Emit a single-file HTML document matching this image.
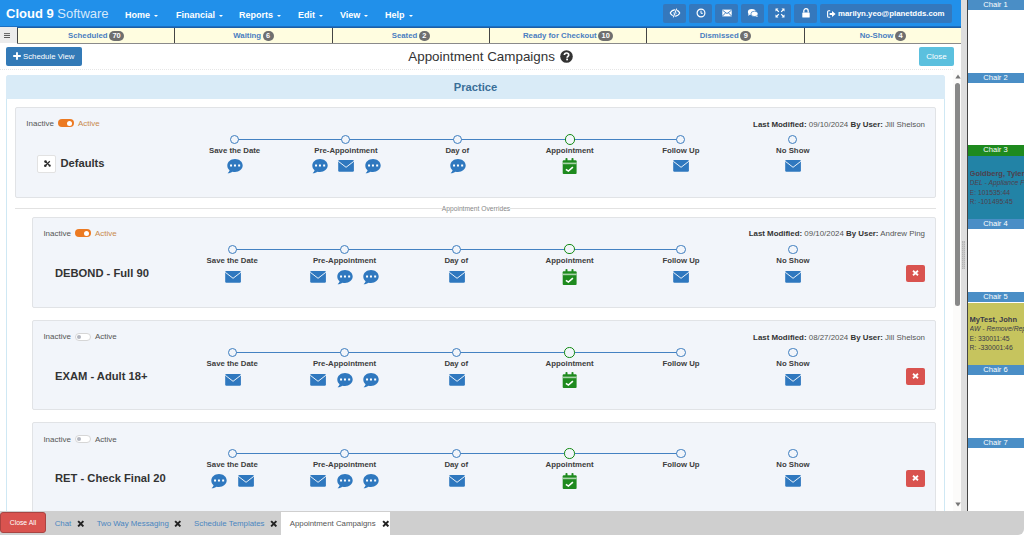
<!DOCTYPE html>
<html><head><meta charset="utf-8"><style>
*{box-sizing:border-box;margin:0;padding:0}
html,body{width:1024px;height:535px;overflow:hidden;background:#fff;font-family:"Liberation Sans",sans-serif;color:#333}
.a{position:absolute}
#nav{left:0;top:0;width:961px;height:27px;background:#2190ea;border-bottom:1px solid #1c6fc0}
.brand{left:6px;top:6.2px;font-size:13px;line-height:16px;color:#fff;white-space:nowrap}
.brand b{font-weight:bold}
.brand span{font-weight:normal;color:rgba(255,255,255,.82)}
.ni{top:10px;font-size:9px;font-weight:bold;color:#fff;white-space:nowrap}
.caret{display:inline-block;width:0;height:0;border-left:2.5px solid transparent;border-right:2.5px solid transparent;border-top:2.5px solid #fff;vertical-align:middle;margin-left:4px}
.nb{top:4px;height:19px;width:23px;background:#3478bd;border-radius:2px}
.nb svg{position:absolute;left:50%;top:46%;transform:translate(-50%,-50%)}
#status{left:17px;top:27px;width:944px;height:16.6px;background:#fffde0;border-top:1px solid #1b5fa8;border-bottom:1.2px solid #8a8a8a}
.ham{left:0;top:27px;width:17px;height:16px;background:#ececec}
.sc{top:28px;height:14.6px;border-left:1.2px solid #444;text-align:center;font-size:7.8px;font-weight:bold;color:#4a7ec0;line-height:15px;white-space:nowrap}
.badge{display:inline-block;background:#6f6f6f;color:#fff;border-radius:5px;padding:0 3.5px;min-width:11px;height:10px;line-height:10px;font-size:7.4px;vertical-align:0px;margin-left:1.5px;text-align:center}
.btn-sv{left:6px;top:46.8px;width:76px;height:19px;background:#337ab7;border-radius:2px;color:#fff;font-size:7.8px;line-height:19px;white-space:nowrap}
.title{font-size:13.4px;line-height:15px;color:#333;white-space:nowrap}
.btn-close{left:919px;top:47px;width:35px;height:19px;background:#5bc0de;border-radius:2px;color:#fff;font-size:8px;line-height:19px;text-align:center}
.hr{left:0;top:69px;width:953px;height:0;border-top:1px dotted #e6e6e6}
.panel{left:6px;top:75px;width:939px;height:440px;border:1px solid #cfe8f4;border-radius:3px;background:#fff}
.ph{left:6px;top:75px;width:939px;height:23.5px;background:#d9ebf7;border-radius:3px 3px 0 0;text-align:center;font-size:11.2px;font-weight:bold;color:#3a6f98;line-height:24.5px}
.card{background:#f2f5fa;border:1px solid #e1e3e6;border-radius:2px}
.tog{font-size:8px;color:#555;white-space:nowrap;height:10px;line-height:10px}
.sw{display:inline-block;width:16px;height:8px;border-radius:4px;vertical-align:-1px;margin:0 4px;position:relative}
.sw.on{background:#ec7a22}
.sw.on:after{content:"";position:absolute;right:1.5px;top:1.5px;width:5px;height:5px;border-radius:50%;background:#fff}
.sw.off{background:#fff;border:1px solid #d6d6d6;top:0.8px}
.sw.off:after{content:"";position:absolute;left:1.3px;top:0.9px;width:4.2px;height:4.2px;border-radius:50%;background:#b3b6c0}
.act{color:#c98a4b}
.lm{font-size:7.9px;color:#555;white-space:nowrap;height:10px;line-height:10px}
.lm b{color:#333}
.lbl{font-size:7.8px;font-weight:bold;color:#3d3d3d;white-space:nowrap;text-align:center;width:100px;height:10px;line-height:10px}
.name{font-size:11.2px;font-weight:bold;color:#333;white-space:nowrap;height:14px;line-height:14px}
.del{width:19px;height:17px;background:#d9534f;border-radius:2px}
.tl{height:1.6px;background:#4482c2}
.circ{width:9.2px;height:9.2px;border-radius:50%;border:1.7px solid #3d7dbf;background:#f2f5fa}
.circ.g{border-color:#138a13;border-width:1.9px;width:10.4px;height:10.4px}
#tabs{left:0;top:511px;width:1024px;height:24px;background:#cfcfcf;border-radius:0 0 6px 0}
.closeall{left:0;top:512px;width:46px;height:21px;background:#d9534f;border:1px solid #a94442;border-radius:3px;color:#fff;font-size:6.8px;text-align:center;line-height:19px}
.tab{top:513px;font-size:7.85px;color:#4a86c0;line-height:22px;white-space:nowrap}
.x{font-size:9px;color:#222;font-weight:bold}
#divider{left:961px;top:0;width:6px;height:511px;background:#dedede}
#divline{left:967px;top:0;width:1px;height:511px;background:#444}
#chairs{left:968px;top:0;width:56px;height:511px;background:#fff}
.ch{left:968px;width:56px;padding-right:1px;height:10.4px;background:#4a8ec6;color:#fff;font-size:7.6px;text-align:center;line-height:10px;white-space:nowrap}
.appt{left:969.6px;width:54.4px;overflow:hidden;font-size:6.8px;line-height:9.5px;white-space:nowrap}
.appt b{font-size:7.5px}
</style></head><body>
<div id="nav" class="a"></div>
<div class="a brand"><b>Cloud 9</b> <span>Software</span></div>
<div class="a ni" style="left:125px">Home<i class="caret"></i></div>
<div class="a ni" style="left:176px">Financial<i class="caret"></i></div>
<div class="a ni" style="left:239px">Reports<i class="caret"></i></div>
<div class="a ni" style="left:298px">Edit<i class="caret"></i></div>
<div class="a ni" style="left:340px">View<i class="caret"></i></div>
<div class="a ni" style="left:385px">Help<i class="caret"></i></div>
<div class="a nb" style="left:663px"><svg width="11" height="10" viewBox="0 0 11 10"><path d="M0.6 5C1.8 3 3.6 1.8 5.5 1.8C7.4 1.8 9.2 3 10.4 5C9.2 7 7.4 8.2 5.5 8.2C3.6 8.2 1.8 7 0.6 5Z" fill="none" stroke="#fff" stroke-width="1.2"/><circle cx="5.5" cy="5" r="1.6" fill="#fff"/><path d="M7.2 0.6L3.8 9.4" stroke="#3478bd" stroke-width="2.2"/><path d="M7.2 0.6L3.8 9.4" stroke="#fff" stroke-width="1.1"/></svg></div>
<div class="a nb" style="left:689px"><svg width="10" height="10" viewBox="0 0 10 10"><circle cx="5" cy="5" r="3.9" fill="none" stroke="#fff" stroke-width="1.2"/><path d="M5 2.7V5.3H6.8" fill="none" stroke="#fff" stroke-width="1"/></svg></div>
<div class="a nb" style="left:715px"><svg width="10" height="8" viewBox="0 0 10 8"><rect x="0.3" y="0.6" width="9.4" height="6.8" fill="#fff"/><path d="M0.5 1.2L5 4.6L9.5 1.2M0.5 7L3.6 3.8M9.5 7L6.4 3.8" fill="none" stroke="#3478bd" stroke-width="0.9"/></svg></div>
<div class="a nb" style="left:741px"><svg width="11" height="9" viewBox="0 0 11 9"><ellipse cx="4.3" cy="3.4" rx="4" ry="2.9" fill="#fff"/><path d="M1 5.5L0.6 7.3L3 6Z" fill="#fff"/><ellipse cx="7" cy="5.4" rx="3.6" ry="2.7" fill="#fff" stroke="#3478bd" stroke-width="0.7"/><path d="M9.5 7.2L10.6 8.6L8 7.8Z" fill="#fff"/></svg></div>
<div class="a nb" style="left:768px"><svg width="10" height="10" viewBox="0 0 10 10"><path d="M0.5 0.5H3.5L2.4 1.6L4.2 3.4L3.4 4.2L1.6 2.4L0.5 3.5Z M9.5 0.5V3.5L8.4 2.4L6.6 4.2L5.8 3.4L7.6 1.6L6.5 0.5Z M0.5 9.5V6.5L1.6 7.6L3.4 5.8L4.2 6.6L2.4 8.4L3.5 9.5Z M9.5 9.5H6.5L7.6 8.4L5.8 6.6L6.6 5.8L8.4 7.6L9.5 6.5Z" fill="#fff"/></svg></div>
<div class="a nb" style="left:794px"><svg width="9" height="10" viewBox="0 0 9 10"><path d="M2.3 4.6V3.1C2.3 1.6 3.3 0.7 4.5 0.7C5.7 0.7 6.7 1.6 6.7 3.1V4.6" fill="none" stroke="#fff" stroke-width="1.3"/><rect x="0.8" y="4.4" width="7.4" height="5.2" rx="0.6" fill="#fff"/></svg></div>
<div class="a nb" style="left:820px;width:132px;color:#fff;font-size:7.85px;font-weight:bold;line-height:19px;padding-left:18px;white-space:nowrap"><svg style="position:absolute;left:7px;top:5.5px;transform:none" width="9" height="8" viewBox="0 0 9 8"><path d="M3.2 0.8H1.6C1 0.8 0.6 1.2 0.6 1.8V6.2C0.6 6.8 1 7.2 1.6 7.2H3.2" fill="none" stroke="#fff" stroke-width="1.1"/><path d="M2.6 3H5V1L8.6 4L5 7V5H2.6Z" fill="#fff"/></svg>marilyn.yeo@planetdds.com</div>
<div id="status" class="a"></div>
<div class="a ham"><svg class="a" style="left:4.4px;top:5.8px" width="6" height="5" viewBox="0 0 6 5"><path d="M0 0.6H6M0 2.5H6M0 4.5H6" stroke="#555" stroke-width="0.95"/></svg></div>
<div class="a sc" style="left:17px;width:157.3px">Scheduled<span class="badge">70</span></div>
<div class="a sc" style="left:174.3px;width:157.4px">Waiting<span class="badge">6</span></div>
<div class="a sc" style="left:331.7px;width:157.3px">Seated<span class="badge">2</span></div>
<div class="a sc" style="left:489px;width:157.3px">Ready for Checkout<span class="badge">10</span></div>
<div class="a sc" style="left:646.3px;width:157.4px">Dismissed<span class="badge">9</span></div>
<div class="a sc" style="left:803.7px;width:157.3px">No-Show<span class="badge">4</span></div>
<div class="a btn-sv"><svg class="a" style="left:7px;top:5.7px" width="8" height="8" viewBox="0 0 8 8"><path d="M4 0.2V7.8M0.2 4H7.8" stroke="#fff" stroke-width="1.9"/></svg><span class="a" style="left:17px;top:0">Schedule View</span></div>
<div class="a title" style="left:408.3px;top:48.8px">Appointment Campaigns</div><svg class="a" style="left:560px;top:49.6px" width="13" height="13" viewBox="0 0 13 13"><circle cx="6.5" cy="6.5" r="6.3" fill="#333"/><path d="M4.4 5.1C4.4 3.8 5.3 3 6.6 3C7.9 3 8.7 3.8 8.7 4.9C8.7 6.3 7.1 6.4 7.1 7.7" fill="none" stroke="#fff" stroke-width="1.7"/><rect x="6.2" y="8.6" width="1.8" height="1.7" fill="#fff"/></svg>
<div class="a btn-close">Close</div>
<div class="a hr"></div>
<div class="a panel"></div>
<div class="a ph">Practice</div>

<div class="a card" style="left:15px;top:106.9px;width:921px;height:91.39999999999999px"></div>
<div class="a tog" style="left:26.3px;top:119.3px">Inactive<i class="sw on"></i><span class="act">Active</span></div>
<div class="a lm" style="right:99px;top:119.6px"><b>Last Modified:</b> 09/10/2024 <b>By User:</b> Jill Shelson</div>
<div class="a tl" style="left:234.6px;top:138.7px;width:446.19999999999993px"></div>
<div class="a circ" style="left:230.0px;top:134.9px"></div>
<div class="a lbl" style="left:184.6px;top:145.8px">Save the Date</div>
<svg class="a" style="left:226.90px;top:159.40px" width="16" height="15" viewBox="0 0 16 15"><path d="M8 0.05C12.25 0.05 15.7 2.9 15.7 6.5C15.7 10.05 12.25 12.95 8 12.95C7.1 12.95 6.3 12.85 5.5 12.65C4.4 13.5 2.7 14.1 0.6 14.2C1.7 13.3 2.4 12.3 2.6 11.3C1.1 10.1 0.3 8.4 0.3 6.5C0.3 2.9 3.75 0.05 8 0.05Z" fill="#2f78bf"/><rect x="3.05" y="5.5" width="2" height="2" fill="#fff"/><rect x="6.95" y="5.5" width="2" height="2" fill="#fff"/><rect x="11.15" y="5.5" width="2" height="2" fill="#fff"/></svg>
<div class="a circ" style="left:341.29999999999995px;top:134.9px"></div>
<div class="a lbl" style="left:295.9px;top:145.8px">Pre-Appointment</div>
<svg class="a" style="left:311.70px;top:159.40px" width="16" height="15" viewBox="0 0 16 15"><path d="M8 0.05C12.25 0.05 15.7 2.9 15.7 6.5C15.7 10.05 12.25 12.95 8 12.95C7.1 12.95 6.3 12.85 5.5 12.65C4.4 13.5 2.7 14.1 0.6 14.2C1.7 13.3 2.4 12.3 2.6 11.3C1.1 10.1 0.3 8.4 0.3 6.5C0.3 2.9 3.75 0.05 8 0.05Z" fill="#2f78bf"/><rect x="3.05" y="5.5" width="2" height="2" fill="#fff"/><rect x="6.95" y="5.5" width="2" height="2" fill="#fff"/><rect x="11.15" y="5.5" width="2" height="2" fill="#fff"/></svg>
<svg class="a" style="left:338.30px;top:159.30px" width="16" height="14" viewBox="0 0 16 14"><rect x="0.2" y="0.9" width="15.7" height="11.8" rx="1.2" fill="#2f78bf"/><path d="M0.3 2.3L8.05 8.3L15.8 2.3" fill="none" stroke="#fff" stroke-width="0.9"/></svg>
<svg class="a" style="left:364.70px;top:159.40px" width="16" height="15" viewBox="0 0 16 15"><path d="M8 0.05C12.25 0.05 15.7 2.9 15.7 6.5C15.7 10.05 12.25 12.95 8 12.95C7.1 12.95 6.3 12.85 5.5 12.65C4.4 13.5 2.7 14.1 0.6 14.2C1.7 13.3 2.4 12.3 2.6 11.3C1.1 10.1 0.3 8.4 0.3 6.5C0.3 2.9 3.75 0.05 8 0.05Z" fill="#2f78bf"/><rect x="3.05" y="5.5" width="2" height="2" fill="#fff"/><rect x="6.95" y="5.5" width="2" height="2" fill="#fff"/><rect x="11.15" y="5.5" width="2" height="2" fill="#fff"/></svg>
<div class="a circ" style="left:452.7px;top:134.9px"></div>
<div class="a lbl" style="left:407.3px;top:145.8px">Day of</div>
<svg class="a" style="left:449.60px;top:159.40px" width="16" height="15" viewBox="0 0 16 15"><path d="M8 0.05C12.25 0.05 15.7 2.9 15.7 6.5C15.7 10.05 12.25 12.95 8 12.95C7.1 12.95 6.3 12.85 5.5 12.65C4.4 13.5 2.7 14.1 0.6 14.2C1.7 13.3 2.4 12.3 2.6 11.3C1.1 10.1 0.3 8.4 0.3 6.5C0.3 2.9 3.75 0.05 8 0.05Z" fill="#2f78bf"/><rect x="3.05" y="5.5" width="2" height="2" fill="#fff"/><rect x="6.95" y="5.5" width="2" height="2" fill="#fff"/><rect x="11.15" y="5.5" width="2" height="2" fill="#fff"/></svg>
<div class="a circ g" style="left:564.5px;top:134.3px"></div>
<div class="a lbl" style="left:519.7px;top:145.8px">Appointment</div>
<svg class="a" style="left:562.10px;top:158.10px" width="16" height="17" viewBox="0 0 16 17"><rect x="0.7" y="2.2" width="13.9" height="13.7" rx="1" fill="#1e8a1e"/><rect x="3.5" y="0" width="2" height="3.5" rx="0.8" fill="#1e8a1e"/><rect x="9.5" y="0" width="2" height="3.5" rx="0.8" fill="#1e8a1e"/><rect x="0.7" y="4.6" width="13.9" height="1.6" fill="#a9d3a9"/><path d="M3.9 11.3L6.4 13.1L10.9 9.1" fill="none" stroke="#fff" stroke-width="1.6"/></svg>
<div class="a circ" style="left:676.1999999999999px;top:134.9px"></div>
<div class="a lbl" style="left:630.8px;top:145.8px">Follow Up</div>
<svg class="a" style="left:673.20px;top:159.30px" width="16" height="14" viewBox="0 0 16 14"><rect x="0.2" y="0.9" width="15.7" height="11.8" rx="1.2" fill="#2f78bf"/><path d="M0.3 2.3L8.05 8.3L15.8 2.3" fill="none" stroke="#fff" stroke-width="0.9"/></svg>
<div class="a circ" style="left:788.1999999999999px;top:134.9px"></div>
<div class="a lbl" style="left:742.8px;top:145.8px">No Show</div>
<svg class="a" style="left:785.20px;top:159.30px" width="16" height="14" viewBox="0 0 16 14"><rect x="0.2" y="0.9" width="15.7" height="11.8" rx="1.2" fill="#2f78bf"/><path d="M0.3 2.3L8.05 8.3L15.8 2.3" fill="none" stroke="#fff" stroke-width="0.9"/></svg>
<div class="a" style="left:37.1px;top:154.9px;width:19.2px;height:18px;background:#fff;border:1px solid #e2e2e2;border-radius:2px"></div>
<svg class="a" style="left:43.5px;top:160.0px" width="7" height="7" viewBox="0 0 7 7"><path d="M1.6 1.6L5.6 5.6M5.8 1.2L1.4 5.6" stroke="#2a2a2a" stroke-width="1.3"/><circle cx="1.5" cy="1.6" r="1.3" fill="#2a2a2a"/><circle cx="1.3" cy="5.7" r="1.3" fill="#2a2a2a"/><circle cx="5.7" cy="5.7" r="1.1" fill="#2a2a2a"/></svg>
<div class="a name" style="left:60.4px;top:156.0px">Defaults</div>
<div class="a" style="left:15px;top:208px;width:921px;height:1px;background:#e2e2e2"></div>
<div class="a" style="left:0;width:952px;top:204px;text-align:center;font-size:6.7px;color:#888;line-height:9px"><span style="background:#fff">Appointment Overrides</span></div>
<div class="a card" style="left:32px;top:216.70000000000002px;width:904px;height:91.1px"></div>
<div class="a tog" style="left:43.4px;top:229.10000000000002px">Inactive<i class="sw on"></i><span class="act">Active</span></div>
<div class="a lm" style="right:99px;top:229.4px"><b>Last Modified:</b> 09/10/2024 <b>By User:</b> Andrew Ping</div>
<div class="a tl" style="left:232.2px;top:248.5px;width:448.8px"></div>
<div class="a circ" style="left:227.6px;top:244.70000000000002px"></div>
<div class="a lbl" style="left:182.2px;top:256.3px">Save the Date</div>
<svg class="a" style="left:224.60px;top:269.80px" width="16" height="14" viewBox="0 0 16 14"><rect x="0.2" y="0.9" width="15.7" height="11.8" rx="1.2" fill="#2f78bf"/><path d="M0.3 2.3L8.05 8.3L15.8 2.3" fill="none" stroke="#fff" stroke-width="0.9"/></svg>
<div class="a circ" style="left:339.9px;top:244.70000000000002px"></div>
<div class="a lbl" style="left:294.5px;top:256.3px">Pre-Appointment</div>
<svg class="a" style="left:310.40px;top:269.80px" width="16" height="14" viewBox="0 0 16 14"><rect x="0.2" y="0.9" width="15.7" height="11.8" rx="1.2" fill="#2f78bf"/><path d="M0.3 2.3L8.05 8.3L15.8 2.3" fill="none" stroke="#fff" stroke-width="0.9"/></svg>
<svg class="a" style="left:336.80px;top:269.90px" width="16" height="15" viewBox="0 0 16 15"><path d="M8 0.05C12.25 0.05 15.7 2.9 15.7 6.5C15.7 10.05 12.25 12.95 8 12.95C7.1 12.95 6.3 12.85 5.5 12.65C4.4 13.5 2.7 14.1 0.6 14.2C1.7 13.3 2.4 12.3 2.6 11.3C1.1 10.1 0.3 8.4 0.3 6.5C0.3 2.9 3.75 0.05 8 0.05Z" fill="#2f78bf"/><rect x="3.05" y="5.5" width="2" height="2" fill="#fff"/><rect x="6.95" y="5.5" width="2" height="2" fill="#fff"/><rect x="11.15" y="5.5" width="2" height="2" fill="#fff"/></svg>
<svg class="a" style="left:363.30px;top:269.90px" width="16" height="15" viewBox="0 0 16 15"><path d="M8 0.05C12.25 0.05 15.7 2.9 15.7 6.5C15.7 10.05 12.25 12.95 8 12.95C7.1 12.95 6.3 12.85 5.5 12.65C4.4 13.5 2.7 14.1 0.6 14.2C1.7 13.3 2.4 12.3 2.6 11.3C1.1 10.1 0.3 8.4 0.3 6.5C0.3 2.9 3.75 0.05 8 0.05Z" fill="#2f78bf"/><rect x="3.05" y="5.5" width="2" height="2" fill="#fff"/><rect x="6.95" y="5.5" width="2" height="2" fill="#fff"/><rect x="11.15" y="5.5" width="2" height="2" fill="#fff"/></svg>
<div class="a circ" style="left:451.7px;top:244.70000000000002px"></div>
<div class="a lbl" style="left:406.3px;top:256.3px">Day of</div>
<svg class="a" style="left:448.70px;top:269.80px" width="16" height="14" viewBox="0 0 16 14"><rect x="0.2" y="0.9" width="15.7" height="11.8" rx="1.2" fill="#2f78bf"/><path d="M0.3 2.3L8.05 8.3L15.8 2.3" fill="none" stroke="#fff" stroke-width="0.9"/></svg>
<div class="a circ g" style="left:564.4px;top:244.10000000000002px"></div>
<div class="a lbl" style="left:519.6px;top:256.3px">Appointment</div>
<svg class="a" style="left:562.00px;top:268.60px" width="16" height="17" viewBox="0 0 16 17"><rect x="0.7" y="2.2" width="13.9" height="13.7" rx="1" fill="#1e8a1e"/><rect x="3.5" y="0" width="2" height="3.5" rx="0.8" fill="#1e8a1e"/><rect x="9.5" y="0" width="2" height="3.5" rx="0.8" fill="#1e8a1e"/><rect x="0.7" y="4.6" width="13.9" height="1.6" fill="#a9d3a9"/><path d="M3.9 11.3L6.4 13.1L10.9 9.1" fill="none" stroke="#fff" stroke-width="1.6"/></svg>
<div class="a circ" style="left:676.4px;top:244.70000000000002px"></div>
<div class="a lbl" style="left:631px;top:256.3px">Follow Up</div>
<svg class="a" style="left:673.40px;top:269.80px" width="16" height="14" viewBox="0 0 16 14"><rect x="0.2" y="0.9" width="15.7" height="11.8" rx="1.2" fill="#2f78bf"/><path d="M0.3 2.3L8.05 8.3L15.8 2.3" fill="none" stroke="#fff" stroke-width="0.9"/></svg>
<div class="a circ" style="left:788.4px;top:244.70000000000002px"></div>
<div class="a lbl" style="left:743px;top:256.3px">No Show</div>
<svg class="a" style="left:785.40px;top:269.80px" width="16" height="14" viewBox="0 0 16 14"><rect x="0.2" y="0.9" width="15.7" height="11.8" rx="1.2" fill="#2f78bf"/><path d="M0.3 2.3L8.05 8.3L15.8 2.3" fill="none" stroke="#fff" stroke-width="0.9"/></svg>
<div class="a name" style="left:55px;top:265.8px">DEBOND - Full 90</div>
<div class="a del" style="left:906px;top:265.3px"></div>
<svg class="a" style="left:912.3px;top:270.1px" width="7" height="6" viewBox="0 0 7 6"><path d="M1 0.8L6 5.2M6 0.8L1 5.2" stroke="#fff" stroke-width="1.8"/></svg>
<div class="a card" style="left:32px;top:319.79999999999995px;width:904px;height:90.6px"></div>
<div class="a tog" style="left:43.4px;top:332.2px">Inactive<i class="sw off"></i><span class="">Active</span></div>
<div class="a lm" style="right:99px;top:332.5px"><b>Last Modified:</b> 08/27/2024 <b>By User:</b> Jill Shelson</div>
<div class="a tl" style="left:232.2px;top:351.59999999999997px;width:448.8px"></div>
<div class="a circ" style="left:227.6px;top:347.79999999999995px"></div>
<div class="a lbl" style="left:182.2px;top:359.4px">Save the Date</div>
<svg class="a" style="left:224.60px;top:372.90px" width="16" height="14" viewBox="0 0 16 14"><rect x="0.2" y="0.9" width="15.7" height="11.8" rx="1.2" fill="#2f78bf"/><path d="M0.3 2.3L8.05 8.3L15.8 2.3" fill="none" stroke="#fff" stroke-width="0.9"/></svg>
<div class="a circ" style="left:339.9px;top:347.79999999999995px"></div>
<div class="a lbl" style="left:294.5px;top:359.4px">Pre-Appointment</div>
<svg class="a" style="left:310.40px;top:372.90px" width="16" height="14" viewBox="0 0 16 14"><rect x="0.2" y="0.9" width="15.7" height="11.8" rx="1.2" fill="#2f78bf"/><path d="M0.3 2.3L8.05 8.3L15.8 2.3" fill="none" stroke="#fff" stroke-width="0.9"/></svg>
<svg class="a" style="left:336.80px;top:373.00px" width="16" height="15" viewBox="0 0 16 15"><path d="M8 0.05C12.25 0.05 15.7 2.9 15.7 6.5C15.7 10.05 12.25 12.95 8 12.95C7.1 12.95 6.3 12.85 5.5 12.65C4.4 13.5 2.7 14.1 0.6 14.2C1.7 13.3 2.4 12.3 2.6 11.3C1.1 10.1 0.3 8.4 0.3 6.5C0.3 2.9 3.75 0.05 8 0.05Z" fill="#2f78bf"/><rect x="3.05" y="5.5" width="2" height="2" fill="#fff"/><rect x="6.95" y="5.5" width="2" height="2" fill="#fff"/><rect x="11.15" y="5.5" width="2" height="2" fill="#fff"/></svg>
<svg class="a" style="left:363.30px;top:373.00px" width="16" height="15" viewBox="0 0 16 15"><path d="M8 0.05C12.25 0.05 15.7 2.9 15.7 6.5C15.7 10.05 12.25 12.95 8 12.95C7.1 12.95 6.3 12.85 5.5 12.65C4.4 13.5 2.7 14.1 0.6 14.2C1.7 13.3 2.4 12.3 2.6 11.3C1.1 10.1 0.3 8.4 0.3 6.5C0.3 2.9 3.75 0.05 8 0.05Z" fill="#2f78bf"/><rect x="3.05" y="5.5" width="2" height="2" fill="#fff"/><rect x="6.95" y="5.5" width="2" height="2" fill="#fff"/><rect x="11.15" y="5.5" width="2" height="2" fill="#fff"/></svg>
<div class="a circ" style="left:451.7px;top:347.79999999999995px"></div>
<div class="a lbl" style="left:406.3px;top:359.4px">Day of</div>
<svg class="a" style="left:448.70px;top:372.90px" width="16" height="14" viewBox="0 0 16 14"><rect x="0.2" y="0.9" width="15.7" height="11.8" rx="1.2" fill="#2f78bf"/><path d="M0.3 2.3L8.05 8.3L15.8 2.3" fill="none" stroke="#fff" stroke-width="0.9"/></svg>
<div class="a circ g" style="left:564.4px;top:347.2px"></div>
<div class="a lbl" style="left:519.6px;top:359.4px">Appointment</div>
<svg class="a" style="left:562.00px;top:371.70px" width="16" height="17" viewBox="0 0 16 17"><rect x="0.7" y="2.2" width="13.9" height="13.7" rx="1" fill="#1e8a1e"/><rect x="3.5" y="0" width="2" height="3.5" rx="0.8" fill="#1e8a1e"/><rect x="9.5" y="0" width="2" height="3.5" rx="0.8" fill="#1e8a1e"/><rect x="0.7" y="4.6" width="13.9" height="1.6" fill="#a9d3a9"/><path d="M3.9 11.3L6.4 13.1L10.9 9.1" fill="none" stroke="#fff" stroke-width="1.6"/></svg>
<div class="a circ" style="left:676.4px;top:347.79999999999995px"></div>
<div class="a lbl" style="left:631px;top:359.4px">Follow Up</div>
<div class="a circ" style="left:788.4px;top:347.79999999999995px"></div>
<div class="a lbl" style="left:743px;top:359.4px">No Show</div>
<svg class="a" style="left:785.40px;top:372.90px" width="16" height="14" viewBox="0 0 16 14"><rect x="0.2" y="0.9" width="15.7" height="11.8" rx="1.2" fill="#2f78bf"/><path d="M0.3 2.3L8.05 8.3L15.8 2.3" fill="none" stroke="#fff" stroke-width="0.9"/></svg>
<div class="a name" style="left:55px;top:368.9px">EXAM - Adult 18+</div>
<div class="a del" style="left:906px;top:368.4px"></div>
<svg class="a" style="left:912.3px;top:373.2px" width="7" height="6" viewBox="0 0 7 6"><path d="M1 0.8L6 5.2M6 0.8L1 5.2" stroke="#fff" stroke-width="1.8"/></svg>
<div class="a card" style="left:32px;top:421.7px;width:904px;height:100.6px"></div>
<div class="a tog" style="left:43.4px;top:434.6px">Inactive<i class="sw off"></i><span class="">Active</span></div>
<div class="a tl" style="left:232.2px;top:452.7px;width:448.8px"></div>
<div class="a circ" style="left:227.6px;top:448.9px"></div>
<div class="a lbl" style="left:182.2px;top:460.40000000000003px">Save the Date</div>
<svg class="a" style="left:211.25px;top:474.00px" width="16" height="15" viewBox="0 0 16 15"><path d="M8 0.05C12.25 0.05 15.7 2.9 15.7 6.5C15.7 10.05 12.25 12.95 8 12.95C7.1 12.95 6.3 12.85 5.5 12.65C4.4 13.5 2.7 14.1 0.6 14.2C1.7 13.3 2.4 12.3 2.6 11.3C1.1 10.1 0.3 8.4 0.3 6.5C0.3 2.9 3.75 0.05 8 0.05Z" fill="#2f78bf"/><rect x="3.05" y="5.5" width="2" height="2" fill="#fff"/><rect x="6.95" y="5.5" width="2" height="2" fill="#fff"/><rect x="11.15" y="5.5" width="2" height="2" fill="#fff"/></svg>
<svg class="a" style="left:237.85px;top:473.90px" width="16" height="14" viewBox="0 0 16 14"><rect x="0.2" y="0.9" width="15.7" height="11.8" rx="1.2" fill="#2f78bf"/><path d="M0.3 2.3L8.05 8.3L15.8 2.3" fill="none" stroke="#fff" stroke-width="0.9"/></svg>
<div class="a circ" style="left:339.9px;top:448.9px"></div>
<div class="a lbl" style="left:294.5px;top:460.40000000000003px">Pre-Appointment</div>
<svg class="a" style="left:310.40px;top:473.90px" width="16" height="14" viewBox="0 0 16 14"><rect x="0.2" y="0.9" width="15.7" height="11.8" rx="1.2" fill="#2f78bf"/><path d="M0.3 2.3L8.05 8.3L15.8 2.3" fill="none" stroke="#fff" stroke-width="0.9"/></svg>
<svg class="a" style="left:336.80px;top:474.00px" width="16" height="15" viewBox="0 0 16 15"><path d="M8 0.05C12.25 0.05 15.7 2.9 15.7 6.5C15.7 10.05 12.25 12.95 8 12.95C7.1 12.95 6.3 12.85 5.5 12.65C4.4 13.5 2.7 14.1 0.6 14.2C1.7 13.3 2.4 12.3 2.6 11.3C1.1 10.1 0.3 8.4 0.3 6.5C0.3 2.9 3.75 0.05 8 0.05Z" fill="#2f78bf"/><rect x="3.05" y="5.5" width="2" height="2" fill="#fff"/><rect x="6.95" y="5.5" width="2" height="2" fill="#fff"/><rect x="11.15" y="5.5" width="2" height="2" fill="#fff"/></svg>
<svg class="a" style="left:363.30px;top:474.00px" width="16" height="15" viewBox="0 0 16 15"><path d="M8 0.05C12.25 0.05 15.7 2.9 15.7 6.5C15.7 10.05 12.25 12.95 8 12.95C7.1 12.95 6.3 12.85 5.5 12.65C4.4 13.5 2.7 14.1 0.6 14.2C1.7 13.3 2.4 12.3 2.6 11.3C1.1 10.1 0.3 8.4 0.3 6.5C0.3 2.9 3.75 0.05 8 0.05Z" fill="#2f78bf"/><rect x="3.05" y="5.5" width="2" height="2" fill="#fff"/><rect x="6.95" y="5.5" width="2" height="2" fill="#fff"/><rect x="11.15" y="5.5" width="2" height="2" fill="#fff"/></svg>
<div class="a circ" style="left:451.7px;top:448.9px"></div>
<div class="a lbl" style="left:406.3px;top:460.40000000000003px">Day of</div>
<svg class="a" style="left:448.70px;top:473.90px" width="16" height="14" viewBox="0 0 16 14"><rect x="0.2" y="0.9" width="15.7" height="11.8" rx="1.2" fill="#2f78bf"/><path d="M0.3 2.3L8.05 8.3L15.8 2.3" fill="none" stroke="#fff" stroke-width="0.9"/></svg>
<div class="a circ g" style="left:564.4px;top:448.3px"></div>
<div class="a lbl" style="left:519.6px;top:460.40000000000003px">Appointment</div>
<svg class="a" style="left:562.00px;top:472.70px" width="16" height="17" viewBox="0 0 16 17"><rect x="0.7" y="2.2" width="13.9" height="13.7" rx="1" fill="#1e8a1e"/><rect x="3.5" y="0" width="2" height="3.5" rx="0.8" fill="#1e8a1e"/><rect x="9.5" y="0" width="2" height="3.5" rx="0.8" fill="#1e8a1e"/><rect x="0.7" y="4.6" width="13.9" height="1.6" fill="#a9d3a9"/><path d="M3.9 11.3L6.4 13.1L10.9 9.1" fill="none" stroke="#fff" stroke-width="1.6"/></svg>
<div class="a circ" style="left:676.4px;top:448.9px"></div>
<div class="a lbl" style="left:631px;top:460.40000000000003px">Follow Up</div>
<div class="a circ" style="left:788.4px;top:448.9px"></div>
<div class="a lbl" style="left:743px;top:460.40000000000003px">No Show</div>
<svg class="a" style="left:785.40px;top:473.90px" width="16" height="14" viewBox="0 0 16 14"><rect x="0.2" y="0.9" width="15.7" height="11.8" rx="1.2" fill="#2f78bf"/><path d="M0.3 2.3L8.05 8.3L15.8 2.3" fill="none" stroke="#fff" stroke-width="0.9"/></svg>
<div class="a name" style="left:55px;top:470.8px">RET - Check Final 20</div>
<div class="a del" style="left:906px;top:470.3px"></div>
<svg class="a" style="left:912.3px;top:475.1px" width="7" height="6" viewBox="0 0 7 6"><path d="M1 0.8L6 5.2M6 0.8L1 5.2" stroke="#fff" stroke-width="1.8"/></svg>
<div id="tabs" class="a"></div>
<div class="a closeall">Close All</div>
<div class="a tab" style="left:54.7px">Chat</div><svg class="a" style="left:77px;top:519.5px" width="7.5" height="7.5" viewBox="0 0 8 8"><path d="M1.2 1.2L6.8 6.8M6.8 1.2L1.2 6.8" stroke="#222" stroke-width="2.1"/></svg>
<div class="a tab" style="left:96.7px">Two Way Messaging</div><svg class="a" style="left:174.4px;top:519.5px" width="7.5" height="7.5" viewBox="0 0 8 8"><path d="M1.2 1.2L6.8 6.8M6.8 1.2L1.2 6.8" stroke="#222" stroke-width="2.1"/></svg>
<div class="a tab" style="left:194px">Schedule Templates</div><svg class="a" style="left:270.3px;top:519.5px" width="7.5" height="7.5" viewBox="0 0 8 8"><path d="M1.2 1.2L6.8 6.8M6.8 1.2L1.2 6.8" stroke="#222" stroke-width="2.1"/></svg>
<div class="a" style="left:281px;top:511.9px;width:109.3px;height:23.1px;background:#fff"></div>
<div class="a tab" style="left:289.7px;color:#555">Appointment Campaigns</div><svg class="a" style="left:381.5px;top:519.5px" width="7.5" height="7.5" viewBox="0 0 8 8"><path d="M1.2 1.2L6.8 6.8M6.8 1.2L1.2 6.8" stroke="#222" stroke-width="2.1"/></svg>
<div class="a" style="left:953px;top:70px;width:8px;height:441px;background:#fcfbfa"></div>
<svg class="a" style="left:954.5px;top:73.5px" width="6" height="5" viewBox="0 0 6 5"><path d="M0.3 4.6L3 0.5L5.7 4.6Z" fill="#777"/></svg>
<svg class="a" style="left:954.5px;top:502px" width="6" height="5" viewBox="0 0 6 5"><path d="M0.3 0.4L3 4.5L5.7 0.4Z" fill="#777"/></svg>
<div class="a" style="left:955px;top:82.9px;width:5px;height:223.3px;background:#888;border-radius:2.5px"></div>
<div id="divider" class="a"></div>
<div id="divline" class="a"></div>
<div class="a" style="left:961.5px;top:240.5px;width:3px;height:28px;background:#c9c9c9;border:1px dotted #b5b5b5"></div>
<div id="chairs" class="a"></div>
<div class="a" style="left:968px;top:155.6px;width:56px;height:63.4px;background:#2283a6"></div>
<div class="a" style="left:968px;top:302.7px;width:56px;height:62.3px;background:#c6c45e"></div>
<div class="a ch" style="top:0">Chair 1</div>
<div class="a ch" style="top:73px">Chair 2</div>
<div class="a ch" style="top:145.3px;background:#1e8a1e;height:10.3px">Chair 3</div>
<div class="a ch" style="top:219px">Chair 4</div>
<div class="a ch" style="top:292px">Chair 5</div>
<div class="a ch" style="top:365px">Chair 6</div>
<div class="a ch" style="top:438px">Chair 7</div>
<div class="a appt" style="top:168.5px;color:#4f3f4c"><b>Goldberg, Tyler</b><br><i>DEL - Appliance Fix</i><br>E: 101535:44<br>R: -101495:45</div>
<div class="a appt" style="top:314.5px;color:#3a3a48"><b>MyTest, John</b><br><i>AW - Remove/Replace</i><br>E: 330011:45<br>R: -330001:46</div>

</body></html>
